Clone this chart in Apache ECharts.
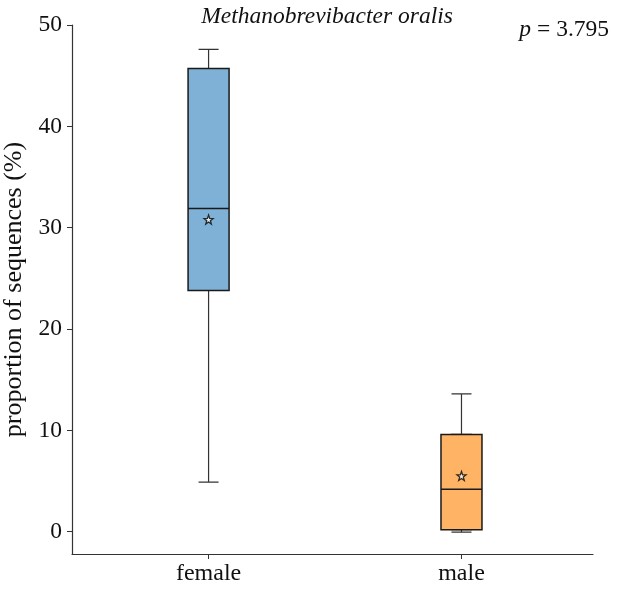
<!DOCTYPE html>
<html>
<head>
<meta charset="utf-8">
<script src="https://cdn.jsdelivr.net/npm/echarts@6/dist/echarts.min.js"></script>
<style>html,body{margin:0;padding:0;background:#fff}#c{width:617px;height:590px}</style>
</head>
<body>
<div id="c"></div>
<script>
const categories = ['female', 'male'];
const lowerWhisker = [4.9, -0.05];
const q1 = [23.8, 0.2];
const median = [31.9, 4.2];
const q3 = [45.7, 9.6];
const upperWhisker = [47.6, 13.6];
const means = [30.8, 5.5];
const boxColors = ['#7fb1d6', '#ffb364'];
const yTicks = [0, 10, 20, 30, 40, 50];
const titleText = 'Methanobrevibacter oralis';
const pText = '3.795';

const serif = 'Liberation Serif';
const chart = echarts.init(document.getElementById('c'));
// whiskers with half-width caps
const whiskerData = categories.map((c, i) => ({
  value: [i, lowerWhisker[i], q1[i], median[i], q3[i], upperWhisker[i]],
  itemStyle: { color: boxColors[i], borderColor: '#333', borderWidth: 1.2 }
}));
// full-width boxes drawn over
const boxData = categories.map((c, i) => ({
  value: [i, q1[i], q1[i], median[i], q3[i], q3[i]],
  itemStyle: { color: boxColors[i], borderColor: '#1a1a1a', borderWidth: 1.5 }
}));
const meanData = categories.map((c, i) => [i, means[i]]);
const star = 'path://M0,-10 L2.35,-3.24 L9.51,-3.09 L3.8,1.24 L5.88,8.09 L0,4 L-5.88,8.09 L-3.8,1.24 L-9.51,-3.09 L-2.35,-3.24 Z';

const X_MIN = -0.54, X_MAX = 1.52, Y_MIN = -2.2, Y_MAX = 50;

chart.setOption({
  animation: false,
  title: [
    { text: titleText, left: 322, top: 0, textAlign: 'center',
      textStyle: { fontFamily: serif, fontStyle: 'italic', fontWeight: 'normal', fontSize: 23.5, color: '#111' } },
    { text: '{i|p} = ' + pText, right: 3, top: 13,
      textStyle: { fontFamily: serif, fontWeight: 'normal', fontSize: 23.5, color: '#111',
        rich: { i: { fontFamily: serif, fontStyle: 'italic', fontSize: 23.5, color: '#111' } } } }
  ],
  grid: { left: 72, right: 24, top: 25, bottom: 36, containLabel: false, outerBoundsMode: 'none' },
  xAxis: [{
    type: 'value', min: X_MIN, max: X_MAX,
    splitLine: { show: false },
    axisLine: { show: true, onZero: false, lineStyle: { color: '#333', width: 1.2 } },
    axisTick: { show: true, customValues: [0, 1], length: 5, lineStyle: { color: '#333' } },
    axisLabel: { show: true, customValues: [0, 1], formatter: v => categories[Math.round(v)],
      fontFamily: serif, fontSize: 24, color: '#111', margin: 8 }
  }, {
    type: 'value', min: X_MIN, max: X_MAX, show: false
  }],
  yAxis: [{
    type: 'value', min: Y_MIN, max: Y_MAX,
    name: 'proportion of sequences (%)', nameLocation: 'middle', nameGap: 39, nameRotate: 90,
    nameTextStyle: { fontFamily: serif, fontSize: 26, color: '#111' },
    splitLine: { show: false },
    axisLine: { show: true, onZero: false, lineStyle: { color: '#333', width: 1.2 } },
    axisTick: { show: true, customValues: yTicks, length: 5, lineStyle: { color: '#333' } },
    axisLabel: { show: true, customValues: yTicks, fontFamily: serif, fontSize: 23.5, color: '#111', margin: 10 }
  }, {
    type: 'value', min: Y_MIN, max: Y_MAX, show: false
  }],
  series: [
    { type: 'boxplot', data: whiskerData, boxWidth: [20, 20], xAxisIndex: 0, yAxisIndex: 0, z: 2 },
    { type: 'boxplot', data: boxData, boxWidth: [41, 41], xAxisIndex: 1, yAxisIndex: 1, z: 3 },
    { type: 'scatter', data: meanData, symbol: star, symbolSize: 9,
      itemStyle: { color: '#fff', borderColor: '#000', borderWidth: 1.3 }, z: 5 }
  ]
});
</script>
</body>
</html>
